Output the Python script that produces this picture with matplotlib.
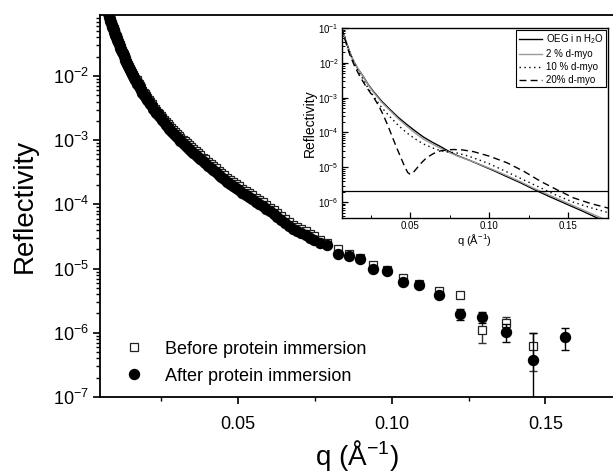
"""中子反射率：蛋白浸泡前后对比 + 模拟曲线插图"""
import matplotlib
matplotlib.use('Agg')
import matplotlib.pyplot as plt
from matplotlib.ticker import FixedLocator, FuncFormatter, LogLocator, NullFormatter
import numpy as np

plt.rcParams['font.family'] = ['Liberation Sans', 'DejaVu Sans']
plt.rcParams['mathtext.default'] = 'regular'

# ============ 主图数据 (log10 R) ============
# 低 q 段两组数据共用的 q 点
q_dense = [0.0072, 0.0074, 0.0076, 0.0078, 0.0080, 0.0082, 0.0084, 0.0086, 0.0088, 0.0090,
           0.0092, 0.0094, 0.0096, 0.0098, 0.0100, 0.0102, 0.0104, 0.0106, 0.0109, 0.0111,
           0.0114, 0.0116, 0.0119, 0.0121, 0.0124, 0.0127, 0.0130, 0.0133, 0.0136, 0.0139,
           0.0142, 0.0145, 0.0148, 0.0151, 0.0155, 0.0158, 0.0162, 0.0165, 0.0169, 0.0172,
           0.0176, 0.0180, 0.0184, 0.0188, 0.0192, 0.0196, 0.0200, 0.0204, 0.0209, 0.0213,
           0.0218, 0.0223, 0.0228, 0.0233, 0.0238, 0.0243, 0.0248, 0.0253, 0.0259, 0.0264,
           0.0270, 0.0276, 0.0282, 0.0288, 0.0294, 0.0300, 0.0306, 0.0312, 0.0319, 0.0326,
           0.0333, 0.0340, 0.0347, 0.0354, 0.0362, 0.0369, 0.0377, 0.0385, 0.0393, 0.0401,
           0.0410, 0.0418, 0.0427, 0.0436, 0.0445, 0.0454, 0.0464, 0.0473, 0.0483, 0.0493,
           0.0503, 0.0513, 0.0524, 0.0535, 0.0546, 0.0557, 0.0568, 0.0579, 0.0591, 0.0603,
           0.0615, 0.0627, 0.0640, 0.0653, 0.0666, 0.0679, 0.0692, 0.0705, 0.0719, 0.0733,
           0.0747, 0.0767]
log_after_dense = [-0.96, -0.99, -1.02, -1.05, -1.08, -1.11, -1.14, -1.17, -1.20, -1.23,
                   -1.26, -1.28, -1.31, -1.34, -1.36, -1.39, -1.41, -1.44, -1.47, -1.50,
                   -1.53, -1.56, -1.59, -1.62, -1.65, -1.69, -1.72, -1.75, -1.78, -1.82,
                   -1.85, -1.88, -1.91, -1.94, -1.97, -2.00, -2.03, -2.06, -2.09, -2.12,
                   -2.15, -2.19, -2.22, -2.26, -2.29, -2.31, -2.34, -2.37, -2.40, -2.44,
                   -2.47, -2.51, -2.54, -2.57, -2.60, -2.63, -2.66, -2.69, -2.72, -2.76,
                   -2.79, -2.83, -2.86, -2.89, -2.92, -2.95, -2.98, -3.01, -3.04, -3.08,
                   -3.11, -3.14, -3.17, -3.20, -3.23, -3.26, -3.29, -3.33, -3.36, -3.40,
                   -3.43, -3.47, -3.50, -3.54, -3.57, -3.61, -3.65, -3.68, -3.71, -3.75,
                   -3.78, -3.82, -3.85, -3.89, -3.92, -3.96, -3.99, -4.03, -4.07, -4.11,
                   -4.15, -4.20, -4.24, -4.29, -4.33, -4.38, -4.41, -4.45, -4.48, -4.52,
                   -4.55, -4.60]
log_before_dense = [-0.95, -0.98, -1.01, -1.04, -1.07, -1.10, -1.13, -1.16, -1.19, -1.22,
                    -1.25, -1.27, -1.30, -1.33, -1.35, -1.38, -1.40, -1.43, -1.46, -1.49,
                    -1.52, -1.55, -1.58, -1.61, -1.64, -1.68, -1.71, -1.74, -1.77, -1.80,
                    -1.83, -1.86, -1.89, -1.92, -1.95, -1.98, -2.01, -2.04, -2.07, -2.10,
                    -2.13, -2.16, -2.19, -2.23, -2.26, -2.28, -2.31, -2.34, -2.37, -2.41,
                    -2.44, -2.48, -2.51, -2.54, -2.57, -2.60, -2.62, -2.65, -2.68, -2.72,
                    -2.75, -2.78, -2.81, -2.84, -2.87, -2.90, -2.93, -2.96, -2.99, -3.02,
                    -3.05, -3.08, -3.11, -3.14, -3.17, -3.20, -3.23, -3.27, -3.30, -3.34,
                    -3.37, -3.41, -3.44, -3.48, -3.51, -3.55, -3.59, -3.62, -3.65, -3.69,
                    -3.72, -3.76, -3.79, -3.83, -3.86, -3.90, -3.93, -3.97, -4.01, -4.05,
                    -4.09, -4.14, -4.18, -4.23, -4.27, -4.32, -4.35, -4.39, -4.42, -4.46,
                    -4.49, -4.55]

# 高 q 段（点较稀，最后几个带误差棒）
q_after_tail = [0.0788, 0.0826, 0.0862, 0.0896, 0.0938, 0.0985, 0.1037, 0.1090, 0.1155, 0.1222,
                0.1293, 0.1371, 0.1461, 0.1564]
log_after_tail = [-4.64, -4.77, -4.80, -4.85, -5.00, -5.03, -5.21, -5.25, -5.41, -5.71,
                  -5.75, -5.98, -6.43, -6.06]
log_after_hi = [-5.63, -5.67, -5.86, -6.00, -5.92]
log_after_lo = [-5.80, -5.84, -6.15, -9.00, -6.27]

q_before_tail = [0.0788, 0.0826, 0.0862, 0.0896, 0.0938, 0.0985, 0.1037, 0.1090, 0.1155, 0.1222,
                 0.1293, 0.1371, 0.1461]
log_before_tail = [-4.60, -4.69, -4.78, -4.84, -4.94, -5.02, -5.14, -5.24, -5.35, -5.41,
                   -5.96, -5.85, -6.21]
log_before_hi = [-5.81, -5.76, -6.00]
log_before_lo = [-6.16, -5.94, -6.60]

# ============ 插图：模拟曲线 (log10 R) ============
q_sim = [0.0068, 0.0085, 0.0100, 0.0120, 0.0140, 0.0170, 0.0204, 0.0235, 0.0268, 0.0320,
         0.0373, 0.0426, 0.0479, 0.0530, 0.0584, 0.0640, 0.0690, 0.0740, 0.0796, 0.0870,
         0.0943, 0.1030, 0.1112, 0.1200, 0.1280, 0.1380, 0.1490, 0.1590, 0.1680, 0.1750]
log_oeg = [-1.00, -1.25, -1.45, -1.70, -1.92, -2.17, -2.39, -2.62, -2.82, -3.10,
           -3.34, -3.57, -3.77, -3.95, -4.13, -4.28, -4.40, -4.53, -4.66, -4.79,
           -4.93, -5.10, -5.27, -5.45, -5.63, -5.84, -6.06, -6.26, -6.45, -6.60]
log_myo2 = [-1.00, -1.25, -1.45, -1.70, -1.92, -2.17, -2.40, -2.63, -2.84, -3.13,
            -3.37, -3.61, -3.82, -4.01, -4.19, -4.33, -4.45, -4.56, -4.67, -4.79,
            -4.92, -5.08, -5.24, -5.42, -5.60, -5.80, -6.02, -6.22, -6.40, -6.53]

q_myo10 = [0.0068, 0.0085, 0.0100, 0.0120, 0.0140, 0.0170, 0.0204, 0.0235, 0.0268, 0.0320,
           0.0373, 0.0426, 0.0479, 0.0530, 0.0584, 0.0640, 0.0690, 0.0740, 0.0796, 0.0870,
           0.0943, 0.1006, 0.1110, 0.1217, 0.1320, 0.1428, 0.1530, 0.1640, 0.1750]
log_myo10 = [-1.00, -1.25, -1.46, -1.72, -1.95, -2.22, -2.48, -2.73, -2.95, -3.28,
             -3.55, -3.80, -4.01, -4.18, -4.33, -4.44, -4.52, -4.56, -4.59, -4.68,
             -4.80, -4.91, -5.13, -5.36, -5.58, -5.81, -6.00, -6.16, -6.30]

q_myo20 = [0.0068, 0.0085, 0.0100, 0.0120, 0.0150, 0.0184, 0.0215, 0.0240, 0.0268, 0.0300,
           0.0331, 0.0362, 0.0394, 0.0420, 0.0447, 0.0468, 0.0485, 0.0500, 0.0520, 0.0542,
           0.0570, 0.0605, 0.0650, 0.0690, 0.0735, 0.0774, 0.0830, 0.0900, 0.1000, 0.1112,
           0.1220, 0.1323, 0.1430, 0.1534, 0.1640, 0.1750]
log_myo20 = [-1.00, -1.27, -1.50, -1.78, -2.10, -2.40, -2.63, -2.80, -2.98, -3.22,
             -3.50, -3.83, -4.20, -4.49, -4.78, -5.00, -5.15, -5.20, -5.15, -5.03,
             -4.88, -4.72, -4.60, -4.53, -4.50, -4.49, -4.50, -4.55, -4.68, -4.87,
             -5.12, -5.40, -5.65, -5.88, -6.04, -6.17]

r_background = 2.1e-6


def pw(v):
    return np.power(10.0, np.array(v))


def sci_fmt(v, pos):
    return '10$^{%d}$' % int(round(np.log10(v)))


# ============ 主图 ============
W, H = 613, 474
fig = plt.figure(figsize=(W / 100, H / 100), dpi=100)
ax = fig.add_axes([100 / W, 1 - 397 / H, 1 - 100 / W, (397 - 15) / H])

qb = np.array(q_dense + q_before_tail)
rb = pw(log_before_dense + log_before_tail)
qa = np.array(q_dense + q_after_tail)
ra = pw(log_after_dense + log_after_tail)

nb, na = len(log_before_hi), len(log_after_hi)
ax.errorbar(qb[-nb:], rb[-nb:],
            yerr=[rb[-nb:] - pw(log_before_lo), pw(log_before_hi) - rb[-nb:]],
            fmt='none', ecolor='#333333', elinewidth=1, capsize=3, capthick=1, zorder=2)
ax.plot(qb, rb, 's', ms=5.8, mfc='white', mec='#222222', mew=0.9, ls='none', zorder=3,
        label='Before protein immersion')
ax.errorbar(qa[-na:], ra[-na:],
            yerr=[ra[-na:] - pw(log_after_lo), pw(log_after_hi) - ra[-na:]],
            fmt='none', ecolor='black', elinewidth=1, capsize=3, capthick=1, zorder=4)
ax.plot(qa, ra, 'o', ms=7.2, mfc='black', mec='black', ls='none', zorder=5,
        label='After protein immersion')

ax.set_yscale('log')
ax.set_xlim(0.005, 0.172)
ax.set_ylim(1e-7, 0.089)
ax.xaxis.set_major_locator(FixedLocator([0.05, 0.10, 0.15]))
ax.xaxis.set_minor_locator(FixedLocator([0.025, 0.075, 0.125]))
ax.xaxis.set_major_formatter(FuncFormatter(lambda v, p: '%.2f' % v))
ax.yaxis.set_major_locator(LogLocator(base=10, numticks=20))
ax.yaxis.set_minor_locator(LogLocator(base=10, subs=np.arange(2, 10), numticks=20))
ax.yaxis.set_major_formatter(FuncFormatter(sci_fmt))
ax.yaxis.set_minor_formatter(NullFormatter())
ax.tick_params(which='major', direction='out', length=5, width=1.2, labelsize=13, pad=3)
ax.tick_params(axis='x', which='major', pad=9)
ax.tick_params(which='minor', direction='out', length=3, width=1.0)
ax.spines['right'].set_visible(False)
for s in ['left', 'bottom', 'top']:
    ax.spines[s].set_linewidth(1.3)

ax.set_xlabel('q (Å$^{-1}$)', fontsize=20, labelpad=3)
ax.set_ylabel('Reflectivity', fontsize=20, labelpad=11)

ax.legend(loc='upper left', bbox_to_anchor=(0.0, 0.19), frameon=False, fontsize=13,
          handletextpad=0.7, labelspacing=0.55, markerscale=1.0)

# ============ 插图 ============
ins = fig.add_axes([341.7 / W, 1 - 218 / H, (608 - 341.7) / W, (218 - 28) / H])
ins.set_zorder(10)
ins.plot(q_sim, pw(log_oeg), color='black', lw=1.0, label='OEG i n H$_2$O')
ins.plot(q_sim, pw(log_myo2), color='#9a9a9a', lw=1.0, label='2 % d-myo')
ins.plot(q_myo10, pw(log_myo10), color='black', lw=1.0, ls=(0, (1, 2.5)), label='10 % d-myo')
ins.plot(q_myo20, pw(log_myo20), color='black', lw=1.0, ls=(0, (5, 3)), label='20% d-myo')
ins.axhline(r_background, color='black', lw=0.9)

ins.set_yscale('log')
ins.set_xlim(0.0068, 0.175)
ins.set_ylim(3.5e-7, 0.1)
ins.xaxis.set_major_locator(FixedLocator([0.05, 0.10, 0.15]))
ins.xaxis.set_minor_locator(FixedLocator([0.025, 0.075, 0.125, 0.175]))
ins.xaxis.set_major_formatter(FuncFormatter(lambda v, p: '%.2f' % v))
ins.yaxis.set_major_locator(LogLocator(base=10, numticks=20))
ins.yaxis.set_minor_locator(LogLocator(base=10, subs=np.arange(2, 10), numticks=20))
ins.yaxis.set_major_formatter(FuncFormatter(sci_fmt))
ins.yaxis.set_minor_formatter(NullFormatter())
ins.tick_params(which='major', direction='in', length=4, width=0.9, labelsize=7, pad=2)
ins.tick_params(which='minor', direction='in', length=2, width=0.7)
for s in ins.spines.values():
    s.set_linewidth(1.0)
ins.set_xlabel('q (Å$^{-1}$)', fontsize=8, labelpad=1)
ins.set_ylabel('Reflectivity', fontsize=10, labelpad=1)

leg = ins.legend(loc='upper right', fontsize=7, frameon=True, fancybox=False, framealpha=1,
                 edgecolor='black', handlelength=2.4, handletextpad=0.4, labelspacing=0.3,
                 borderpad=0.25, borderaxespad=0.2)
leg.get_frame().set_linewidth(0.8)

plt.savefig('out.png', dpi=100)
plt.close()
